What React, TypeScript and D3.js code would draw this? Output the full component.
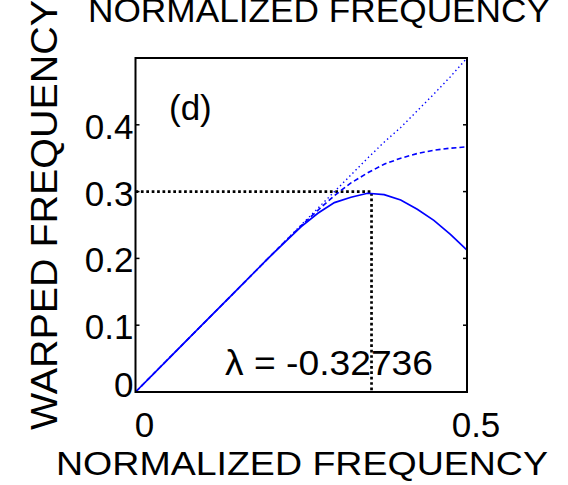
import React from "react";
import * as d3 from "d3";

const freqGrid = [0, 0.05, 0.1, 0.15, 0.2, 0.225, 0.25, 0.275, 0.3, 0.325, 0.35, 0.375, 0.4, 0.425, 0.45, 0.475, 0.5];
const warpedSolid = [0, 0.05, 0.1, 0.15, 0.2, 0.224, 0.2475, 0.2675, 0.2835, 0.2915, 0.2975, 0.2955, 0.2875, 0.2735, 0.257, 0.236, 0.2125];
const warpedDashed = [0, 0.05, 0.1, 0.15, 0.2, 0.225, 0.249, 0.272, 0.294, 0.313, 0.328, 0.341, 0.35, 0.357, 0.362, 0.365, 0.367];
const warpedDotted = [0, 0.05, 0.1, 0.15, 0.2, 0.225, 0.25, 0.275, 0.3, 0.325, 0.35, 0.374, 0.396, 0.421, 0.446, 0.472, 0.5];
const yTicks = [0, 0.1, 0.2, 0.3, 0.4];
const xTicks = [0, 0.5];
const peakFreq = 0.356;
const peakWarped = 0.3;
const panelLabel = "(d)";
const lambdaLabel = "λ = -0.32736";
const xLabel = "NORMALIZED FREQUENCY";
const yLabel = "WARPED FREQUENCY";

const W = 568, H = 485;
const L = 135.5, R = 467, T = 58, B = 392;
const font = "'Liberation Sans', Arial, sans-serif";

export default function App() {
  const x = d3.scaleLinear().domain([0, 0.5]).range([L, R]);
  const y = d3.scaleLinear().domain([0, 0.5]).range([B, T]);
  const line = d3.line<number>().x((_, i) => x(freqGrid[i])).y((d) => y(d));
  return (
    <svg width={W} height={H} style={{ position: "absolute", left: 0, top: 0, background: "#fff" }}>
      <rect x={0} y={0} width={W} height={H} fill="#fff" />
      <text x={319} y={22} fontFamily={font} fontSize={34} textAnchor="middle" textLength={462} lengthAdjust="spacingAndGlyphs">{xLabel}</text>
      <path d={`M${x(0)},${y(peakWarped)}H${x(peakFreq)}V${y(0)}`} fill="none" stroke="#000" strokeWidth={2.7} strokeDasharray="2.7,2.7" />
      <path d={line(warpedDotted) || ""} fill="none" stroke="#0000ff" strokeWidth={1.4} strokeDasharray="1.4,3" />
      <path d={line(warpedDashed) || ""} fill="none" stroke="#0000ff" strokeWidth={1.6} strokeDasharray="5,3" />
      <path d={line(warpedSolid) || ""} fill="none" stroke="#0000ff" strokeWidth={1.7} />
      <rect x={L} y={T} width={R - L} height={B - T} fill="none" stroke="#000" strokeWidth={2} />
      {yTicks.map((t) => (
        <g key={t}>
          <line x1={L} x2={L + 4} y1={y(t)} y2={y(t)} stroke="#000" strokeWidth={1.5} />
          <line x1={R} x2={R - 4} y1={y(t)} y2={y(t)} stroke="#000" strokeWidth={1.5} />
          <text x={L - 2} y={Math.min(y(t) + 14, B + 5)} fontFamily={font} fontSize={35} textAnchor="end">{String(t)}</text>
        </g>
      ))}
      {xTicks.map((t) => (
        <text key={t} x={x(t) + 9} y={437} fontFamily={font} fontSize={35} textAnchor="middle">{String(t)}</text>
      ))}
      <text x={169} y={120} fontFamily={font} fontSize={35}>{panelLabel}</text>
      <text x={225} y={375} fontFamily={font} fontSize={35} textLength={208} lengthAdjust="spacingAndGlyphs">{lambdaLabel}</text>
      <text x={302} y={475} fontFamily={font} fontSize={34} textAnchor="middle" textLength={492} lengthAdjust="spacingAndGlyphs">{xLabel}</text>
      <text transform={`translate(57,215) rotate(-90)`} fontFamily={font} fontSize={37} textAnchor="middle" textLength={430} lengthAdjust="spacingAndGlyphs">{yLabel}</text>
    </svg>
  );
}
